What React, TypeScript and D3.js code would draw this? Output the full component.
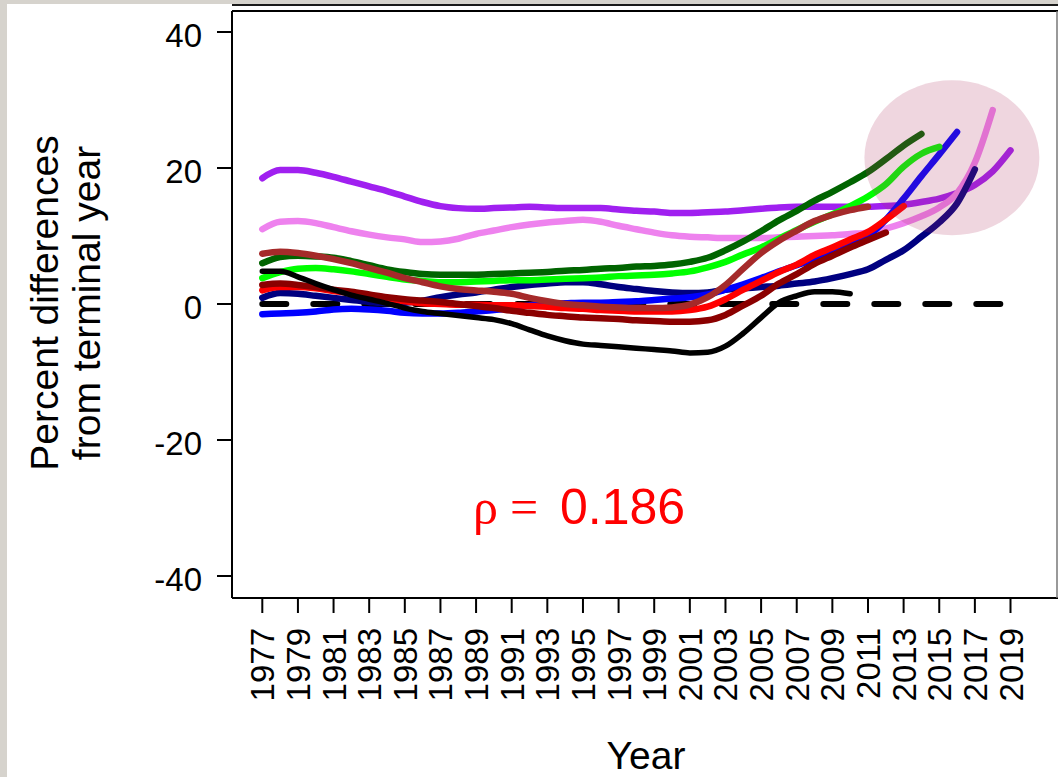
import React from "react";
import * as d3 from "d3";

// ---------- data ----------
const startYear = 1977;
const xTickYears = [1977, 1979, 1981, 1983, 1985, 1987, 1989, 1991, 1993, 1995, 1997, 1999, 2001, 2003, 2005, 2007, 2009, 2011, 2013, 2015, 2017, 2019];
const yTickValues = [-40, -20, 0, 20, 40];

// Each peel starts in 1977 and ends at its terminal year
const peel2010 = [4.8, 4.8, 4.0, 3.0, 2.1, 1.3, 0.7, 0.1, -0.6, -1.1, -1.4, -1.7, -2.0, -2.3, -2.9, -3.8, -4.7, -5.4, -5.9, -6.1, -6.3, -6.5, -6.7, -6.9, -7.2, -7.1, -6.2, -4.3, -2.0, 0.2, 1.2, 1.8, 1.8, 1.5];
const peel2011 = [7.4, 7.7, 7.5, 7.1, 6.6, 6.0, 5.3, 4.6, 3.8, 3.2, 2.6, 2.2, 2.0, 1.8, 1.5, 0.9, 0.4, 0.0, -0.2, -0.4, -0.5, -0.6, -0.6, -0.5, -0.1, 1.0, 2.8, 5.2, 7.5, 9.3, 10.8, 12.2, 13.1, 13.8, 14.3];
const peel2012 = [2.8, 3.0, 2.8, 2.5, 2.1, 1.8, 1.4, 1.0, 0.7, 0.5, 0.3, 0.0, -0.3, -0.6, -1.0, -1.3, -1.6, -1.8, -2.0, -2.1, -2.2, -2.4, -2.5, -2.6, -2.6, -2.4, -1.6, -0.2, 1.2, 3.0, 4.4, 5.9, 7.1, 8.3, 9.4, 10.5];
const peel2013 = [2.0, 2.5, 2.5, 2.3, 1.9, 1.6, 1.2, 0.8, 0.4, 0.1, 0.0, -0.1, -0.1, -0.2, -0.2, -0.3, -0.4, -0.6, -0.7, -0.9, -1.0, -1.1, -1.1, -1.1, -0.9, -0.4, 0.7, 2.1, 3.4, 4.7, 5.8, 7.2, 8.3, 9.5, 10.6, 12.4, 14.4];
const peel2014 = [6.0, 6.9, 7.1, 7.0, 6.8, 6.3, 5.7, 5.1, 4.7, 4.4, 4.3, 4.3, 4.3, 4.4, 4.5, 4.6, 4.7, 4.9, 5.0, 5.2, 5.3, 5.5, 5.6, 5.8, 6.2, 6.8, 7.9, 9.2, 10.7, 12.3, 13.7, 15.2, 16.5, 17.9, 19.4, 21.3, 23.3, 25.0];
const peel2015 = [3.8, 4.7, 5.2, 5.3, 5.1, 4.8, 4.4, 4.0, 3.6, 3.4, 3.2, 3.2, 3.3, 3.4, 3.5, 3.5, 3.6, 3.7, 3.8, 3.9, 4.1, 4.2, 4.3, 4.5, 4.8, 5.4, 6.2, 7.3, 8.3, 9.6, 10.9, 12.1, 13.2, 14.4, 15.8, 17.6, 20.2, 22.1, 23.1];
const peel2016 = [-1.5, -1.4, -1.3, -1.1, -0.8, -0.7, -0.8, -1.0, -1.3, -1.4, -1.4, -1.3, -1.1, -0.9, -0.6, -0.2, 0.0, 0.1, 0.2, 0.2, 0.3, 0.4, 0.6, 0.8, 1.0, 1.4, 2.1, 2.9, 3.8, 4.8, 5.7, 6.6, 7.5, 8.6, 10.0, 12.4, 15.5, 18.8, 22.0, 25.3];
const peel2017 = [0.9, 1.6, 1.5, 1.2, 0.9, 0.6, 0.3, 0.1, 0.2, 0.5, 1.0, 1.4, 1.7, 2.1, 2.5, 2.8, 3.0, 3.2, 3.2, 2.9, 2.5, 2.2, 1.9, 1.7, 1.6, 1.7, 2.1, 2.3, 2.5, 2.7, 3.0, 3.3, 3.8, 4.4, 5.1, 6.5, 7.9, 9.9, 12.0, 14.8, 19.8];
const peel2018 = [11.0, 12.1, 12.2, 11.9, 11.3, 10.7, 10.2, 9.8, 9.5, 9.1, 9.2, 9.6, 10.3, 10.8, 11.3, 11.7, 12.0, 12.2, 12.4, 12.1, 11.5, 11.0, 10.5, 10.1, 9.9, 9.8, 9.7, 9.7, 9.7, 9.8, 9.9, 10.0, 10.1, 10.3, 10.5, 11.1, 11.9, 12.9, 14.2, 16.3, 20.8, 28.5];
const peel2019 = [18.5, 19.7, 19.7, 19.3, 18.7, 18.0, 17.3, 16.6, 15.8, 15.0, 14.4, 14.1, 14.0, 14.1, 14.2, 14.3, 14.2, 14.1, 14.1, 14.1, 13.9, 13.7, 13.6, 13.4, 13.4, 13.5, 13.6, 13.8, 14.0, 14.2, 14.3, 14.3, 14.3, 14.3, 14.3, 14.4, 14.6, 15.0, 15.5, 16.3, 17.5, 19.5, 22.6];

const seriesNames = ["2019", "2018", "2017", "2016", "2015", "2014", "2013", "2012", "2011", "2010"];
const seriesValues = [peel2019, peel2018, peel2017, peel2016, peel2015, peel2014, peel2013, peel2012, peel2011, peel2010];
const seriesColors = ["#A020F0", "#EE82EE", "#000080", "#0000FF", "#00FF00", "#006400", "#FF0000", "#8B0000", "#A52A2A", "#000000"];

const referenceLine = [0, 0];
const referenceYears = [1977, 2019];

// highlight ellipse (data units)
const ellipseCenterYear = 2015.71;
const ellipseCenterValue = 21.5;
const ellipseRadiusYears = 4.91;
const ellipseRadiusValue = 11.4;

const rhoText = "0.186";

// ---------- layout ----------
const W = 1058;
const H = 777;
const box = { left: 232, top: 11, right: 1057, bottom: 598 };
const FONT = "'Liberation Sans', Arial, Helvetica, sans-serif";
const SERIF = "'Liberation Serif', 'DejaVu Serif', serif";

export default function App() {
  const x = d3.scaleLinear().domain([1977, 2019]).range([262.3, 1010.5]);
  const y = d3.scaleLinear().domain([-40, 40]).range([576, 32]);

  const line = d3
    .line<[number, number]>()
    .x((d) => x(d[0]))
    .y((d) => y(d[1]))
    .curve(d3.curveMonotoneX);

  const paths = seriesValues.map((vals) =>
    line(vals.map((v, i) => [startYear + i, v] as [number, number]))
  );

  const refPath = d3.line<number>()
    .x((_, i) => x(referenceYears[i]))
    .y((d) => y(d))(referenceLine);

  const ex = x(ellipseCenterYear);
  const ey = y(ellipseCenterValue);
  const erx = x(ellipseCenterYear + ellipseRadiusYears) - ex;
  const ery = y(ellipseCenterValue) - y(ellipseCenterValue + ellipseRadiusValue);

  return (
    <svg
      width={W}
      height={H}
      style={{ position: "absolute", left: 0, top: 0, background: "#ffffff" }}
      fontFamily={FONT}
    >
      <rect x={0} y={0} width={W} height={H} fill="#ffffff" />
      {/* window chrome */}
      <rect x={0} y={0} width={7} height={H} fill="#d6d3cd" />
      <rect x={0} y={0} width={W} height={4} fill="#d6d3cd" />
      <line x1={box.left} x2={W} y1={5} y2={5} stroke="#1a1a1a" strokeWidth={2} />

      {/* plot box */}
      <line x1={box.left} x2={box.left} y1={box.top} y2={box.bottom} stroke="#000" strokeWidth={2} />
      <line x1={box.left} x2={W} y1={box.top} y2={box.top} stroke="#000" strokeWidth={2} />
      <line x1={box.left} x2={W} y1={box.bottom} y2={box.bottom} stroke="#000" strokeWidth={2} />
      <line x1={box.right} x2={box.right} y1={box.top} y2={box.bottom} stroke="#777" strokeWidth={1.5} />

      {/* y axis */}
      {yTickValues.map((v) => (
        <g key={v}>
          <line x1={217} x2={box.left} y1={y(v)} y2={y(v)} stroke="#000" strokeWidth={2} />
          <text x={202} y={y(v) + 15} textAnchor="end" fontSize={33} fill="#000">
            {v}
          </text>
        </g>
      ))}

      {/* x axis */}
      {xTickYears.map((yr) => (
        <g key={yr}>
          <line x1={x(yr)} x2={x(yr)} y1={box.bottom} y2={613} stroke="#000" strokeWidth={2} />
          <text
            transform={`translate(${x(yr) + 12},628) rotate(-90)`}
            textAnchor="end"
            fontSize={33}
            fill="#000"
          >
            {yr}
          </text>
        </g>
      ))}

      {/* axis titles */}
      <text transform={`translate(58,303) rotate(-90)`} textAnchor="middle" fontSize={39} fill="#000">
        Percent differences
      </text>
      <text transform={`translate(100,303) rotate(-90)`} textAnchor="middle" fontSize={39} fill="#000">
        from terminal year
      </text>
      <text x={646} y={769} textAnchor="middle" fontSize={39} fill="#000">
        Year
      </text>

      {/* reference dashed line */}
      <path
        d={refPath || ""}
        fill="none"
        stroke="#000"
        strokeWidth={6}
        strokeDasharray="24 27"
        strokeLinecap="round"
      />

      {/* peels */}
      {paths.map((p, i) => (
        <path
          key={seriesNames[i]}
          d={p || ""}
          fill="none"
          stroke={seriesColors[i]}
          strokeWidth={i === paths.length - 1 ? 5.5 : 6.5}
          strokeLinecap="round"
          strokeLinejoin="round"
        />
      ))}

      {/* highlight */}
      <ellipse cx={ex} cy={ey} rx={erx} ry={ery} fill="#B03060" fillOpacity={0.2} />

      {/* rho annotation */}
      <text y={524} fontSize={50} fill="#FF0000">
        <tspan x={473} fontFamily={SERIF}>ρ</tspan>
        <tspan x={510} fontFamily={SERIF}>=</tspan>
        <tspan x={560}>{rhoText}</tspan>
      </text>
    </svg>
  );
}
